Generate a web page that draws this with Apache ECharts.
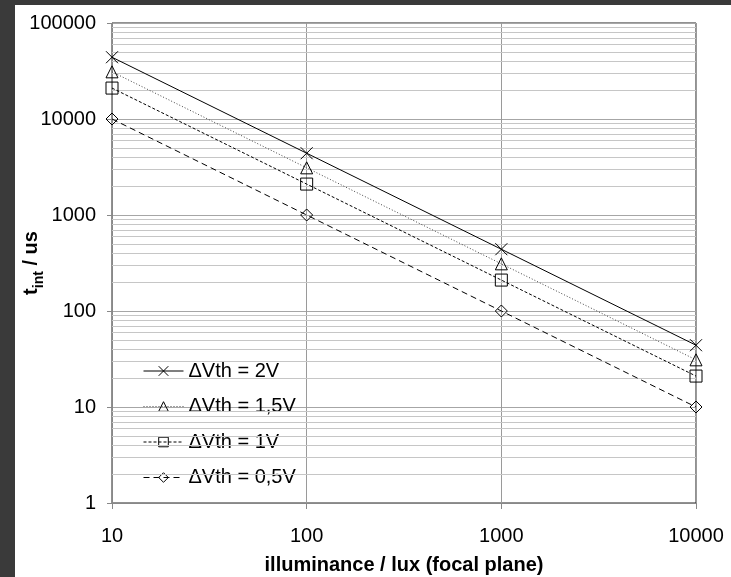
<!DOCTYPE html>
<html>
<head>
<meta charset="utf-8">
<script src="https://cdn.jsdelivr.net/npm/echarts@6/dist/echarts.min.js"></script>
<style>
  html, body { margin: 0; padding: 0; background: #ffffff; }
  #chart { width: 731px; height: 577px; }
</style>
</head>
<body>
<div id="chart"></div>
<script>
// Illuminance on the focal plane (lux)
const illuminance = [10, 100, 1000, 10000];

// Integration time (us) for each threshold swing
const tint2V = [44000, 4400, 440, 44];
const tint15V = [31000, 3100, 310, 31];
const tint1V = [21000, 2100, 210, 21];
const tint05V = [10000, 1000, 100, 10];

const seriesNames = ['ΔVth = 2V', 'ΔVth = 1,5V', 'ΔVth = 1V', 'ΔVth = 0,5V'];

// Intermediate log grid lines (2..9 within every decade)
const minorGridValues = [];
for (let dec = 1; dec < 100000; dec *= 10) {
  for (let k = 2; k <= 9; k++) minorGridValues.push(k * dec);
}

const FONT = '"Liberation Sans", Arial, sans-serif';

function pairs(ys) {
  return illuminance.map((x, i) => [x, ys[i]]);
}

const hollow = { color: 'rgba(0,0,0,0)', borderColor: '#000', borderWidth: 1 };

const chart = echarts.init(document.getElementById('chart'), null, { renderer: 'canvas' });

chart.setOption({
  animation: false,
  backgroundColor: '#ffffff',
  graphic: [
    { type: 'rect', left: 0, top: 0, shape: { width: 15, height: 577 }, style: { fill: '#3a3a3a' }, silent: true },
    { type: 'rect', left: 0, top: 0, shape: { width: 731, height: 5 }, style: { fill: '#3a3a3a' }, silent: true }
  ],
  grid: {
    left: 112, right: 35, top: 23, bottom: 74,
    containLabel: false,
    outerBoundsMode: 'none',
    show: true, borderColor: '#222', borderWidth: 1, backgroundColor: 'transparent'
  },
  legend: {
    orient: 'vertical',
    left: 138,
    top: 356,
    itemWidth: 40,
    itemHeight: 12,
    itemGap: 15.5,
    data: seriesNames,
    itemStyle: { color: 'rgba(0,0,0,0)', borderColor: '#000', borderWidth: 1 },
    lineStyle: { width: 1 },
    textStyle: { fontFamily: FONT, fontSize: 20, color: '#000' },
    selectedMode: false
  },
  xAxis: {
    type: 'log',
    logBase: 10,
    min: 10,
    max: 10000,
    name: 'illuminance / lux (focal plane)',
    nameLocation: 'middle',
    nameGap: 52,
    nameMoveOverlap: false,
    nameTextStyle: { fontFamily: FONT, fontSize: 20, fontWeight: 'bold', color: '#000' },
    axisLine: { show: true, lineStyle: { color: '#888', width: 1 } },
    axisTick: { show: true, inside: false, length: 6, lineStyle: { color: '#888' } },
    axisLabel: {
      margin: 23,
      fontFamily: FONT, fontSize: 20, color: '#000',
      formatter: v => String(Math.round(v))
    },
    splitLine: { show: true, lineStyle: { color: '#9a9a9a', width: 1 } }
  },
  yAxis: {
    type: 'log',
    logBase: 10,
    min: 1,
    max: 100000,
    name: '{m|t}{s|int}{m| / us}',
    nameLocation: 'middle',
    nameRotate: 90,
    nameGap: 66,
    nameMoveOverlap: false,
    nameTextStyle: {
      fontFamily: FONT, fontSize: 20, fontWeight: 'bold', color: '#000',
      rich: {
        m: { fontFamily: FONT, fontSize: 20, fontWeight: 'bold', color: '#000', verticalAlign: 'bottom', padding: [0, 0, 5, 0] },
        s: { fontFamily: FONT, fontSize: 14, fontWeight: 'bold', color: '#000', verticalAlign: 'bottom' }
      }
    },
    axisLine: { show: true, lineStyle: { color: '#888', width: 1 } },
    axisTick: { show: true, inside: false, length: 5, lineStyle: { color: '#888' } },
    axisLabel: {
      margin: 16,
      fontFamily: FONT, fontSize: 20, color: '#000',
      formatter: v => String(Math.round(v))
    },
    splitLine: { show: true, lineStyle: { color: '#a6a6a6', width: 1 } }
  },
  series: [
    {
      // carries the intermediate horizontal grid lines
      name: 'grid-minor',
      type: 'line',
      data: [],
      silent: true,
      z: 1,
      markLine: {
        silent: true,
        symbol: ['none', 'none'],
        label: { show: false },
        animation: false,
        lineStyle: { color: '#c6c6c6', type: 'solid', width: 1 },
        emphasis: { disabled: true },
        data: minorGridValues.map(v => ({ yAxis: v }))
      }
    },
    {
      name: seriesNames[0],
      type: 'line',
      data: pairs(tint2V),
      z: 5,
      symbol: 'path://M0,0L10,10M10,0L0,10',
      symbolSize: 12,
      itemStyle: hollow,
      lineStyle: { color: '#000', width: 1, type: 'solid' },
      emphasis: { disabled: true }
    },
    {
      name: seriesNames[1],
      type: 'line',
      data: pairs(tint15V),
      z: 5,
      symbol: 'triangle',
      symbolSize: 12,
      itemStyle: hollow,
      lineStyle: { color: '#444', width: 1, type: [1, 2] },
      emphasis: { disabled: true }
    },
    {
      name: seriesNames[2],
      type: 'line',
      data: pairs(tint1V),
      z: 5,
      symbol: 'rect',
      symbolSize: 12,
      itemStyle: hollow,
      lineStyle: { color: '#000', width: 1, type: [3, 2] },
      emphasis: { disabled: true }
    },
    {
      name: seriesNames[3],
      type: 'line',
      data: pairs(tint05V),
      z: 5,
      symbol: 'diamond',
      symbolSize: 12,
      itemStyle: hollow,
      lineStyle: { color: '#000', width: 1, type: [6, 4] },
      emphasis: { disabled: true }
    }
  ]
});
</script>
</body>
</html>
